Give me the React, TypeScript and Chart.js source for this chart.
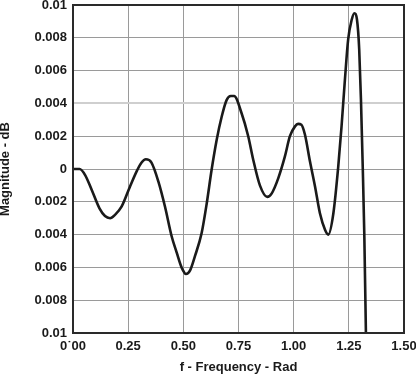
import React, { useEffect, useRef } from "react";
import { Chart, registerables } from "chart.js";

Chart.register(...registerables);

const freq = [0, 0.03, 0.055, 0.085, 0.12, 0.145, 0.168, 0.19, 0.22, 0.258, 0.29, 0.31, 0.33, 0.355, 0.387, 0.417, 0.447, 0.47, 0.492, 0.512, 0.53, 0.553, 0.583, 0.606, 0.628, 0.651, 0.674, 0.696, 0.715, 0.73, 0.764, 0.794, 0.817, 0.847, 0.88, 0.9, 0.93, 0.96, 0.983, 1.006, 1.02, 1.035, 1.051, 1.074, 1.097, 1.119, 1.142, 1.157, 1.18, 1.202, 1.217, 1.232, 1.247, 1.263, 1.275, 1.287, 1.297, 1.305, 1.313, 1.32, 1.328];
const magnitude = [0, 0, -0.00037, -0.00128, -0.0024, -0.00287, -0.003, -0.0028, -0.0023, -0.00108, -0.0001, 0.00038, 0.00059, 0.0004, -0.00077, -0.0023, -0.0041, -0.0051, -0.006, -0.0064, -0.0062, -0.0053, -0.0039, -0.0021, -0.00006, 0.00177, 0.0032, 0.0042, 0.00445, 0.00445, 0.0034, 0.002, 0.00055, -0.001, -0.0017, -0.0015, -0.00057, 0.00075, 0.002, 0.0026, 0.00275, 0.0027, 0.0021, 0.00045, -0.00108, -0.0027, -0.0037, -0.004, -0.0027, 0.00014, 0.0026, 0.0054, 0.0079, 0.0091, 0.0095, 0.0091, 0.0073, 0.0042, 0.00014, -0.0039, -0.0105];

const yTickLabels = ["0.01", "0.008", "0.006", "0.004", "0.002", "0", "0.002", "0.004", "0.006", "0.008", "0.01"]; // bottom to top
const xTickLabels = ["0\u02D900", "0.25", "0.50", "0.75", "1.00", "1.25", "1.50"];

const FONT = "'Liberation Sans', Arial, Helvetica, sans-serif";

const framePlugin = {
  id: "frame",
  afterDraw(chart: any) {
    const { ctx, chartArea } = chart;
    ctx.save();
    ctx.strokeStyle = "#2a2a2a";
    ctx.lineWidth = 2;
    ctx.strokeRect(chartArea.left, chartArea.top, chartArea.right - chartArea.left, chartArea.bottom - chartArea.top);
    ctx.restore();
  },
};

export default function App() {
  const ref = useRef<HTMLCanvasElement | null>(null);
  useEffect(() => {
    document.body.style.margin = "0";
    if (!ref.current) return;
    const points = freq.map((f, i) => ({ x: f, y: magnitude[i] }));
    const chart = new Chart(ref.current, {
      type: "line",
      data: {
        datasets: [
          {
            data: points,
            borderColor: "#1a1a1a",
            borderWidth: 2.6,
            pointRadius: 0,
            cubicInterpolationMode: "monotone",
            fill: false,
          },
        ],
      },
      options: {
        animation: false,
        responsive: false,
        maintainAspectRatio: false,
        layout: { padding: { top: 5, right: 12, left: 0, bottom: 0 } },
        plugins: { legend: { display: false }, tooltip: { enabled: false } },
        scales: {
          x: {
            type: "linear",
            min: 0,
            max: 1.5,
            ticks: {
              stepSize: 0.25,
              padding: 6,
              color: "#1a1a1a",
              font: { family: FONT, size: 13, weight: "bold" },
              maxRotation: 0,
              autoSkip: false,
              callback: (_v: any, i: number) => xTickLabels[i],
            },
            grid: { color: "#9a9a9a", lineWidth: 1, drawTicks: false },
            border: { display: false },
            title: {
              display: true,
              text: "f - Frequency - Rad",
              color: "#1a1a1a",
              font: { family: FONT, size: 13, weight: "bold" },
              padding: { top: 0, bottom: 1.5 },
            },
            afterFit: (s: any) => {
              s.height = 44;
              s.paddingLeft = 0;
              s.paddingRight = 0;
            },
          },
          y: {
            type: "linear",
            min: -0.01,
            max: 0.01,
            ticks: {
              stepSize: 0.002,
              padding: 6,
              color: "#1a1a1a",
              font: { family: FONT, size: 13, weight: "bold" },
              autoSkip: false,
              callback: (_v: any, i: number) => yTickLabels[i],
            },
            grid: {
              color: (c: any) => (c.index === 7 ? "#cfcfcf" : "#9a9a9a"),
              lineWidth: (c: any) => (c.index === 7 ? 2 : 1),
              drawTicks: false,
            },
            border: { display: false },
            title: {
              display: true,
              text: "Magnitude - dB",
              color: "#1a1a1a",
              font: { family: FONT, size: 13, weight: "bold", lineHeight: 0.85 },
              padding: { top: 0, bottom: 0 },
            },
            afterFit: (s: any) => {
              s.width = 73;
              s.paddingTop = 0;
              s.paddingBottom = 0;
            },
          },
        },
      },
      plugins: [framePlugin],
    });
    return () => chart.destroy();
  }, []);
  return (
    <div style={{ width: 416, height: 377, background: "#fff" }}>
      <canvas ref={ref} width={416} height={377} style={{ display: "block" }} />
    </div>
  );
}
